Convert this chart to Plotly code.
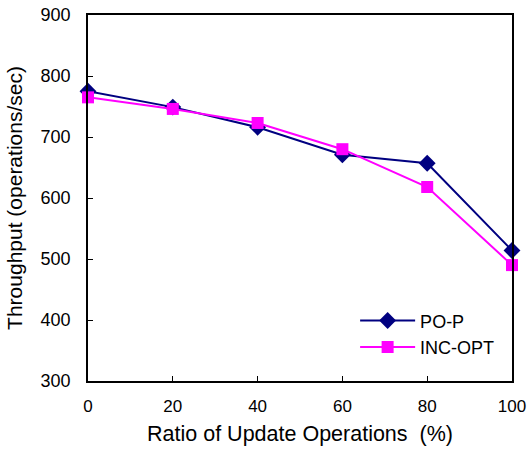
import plotly.graph_objects as go

ratio = [0, 20, 40, 60, 80, 100]
po_p = [775, 749, 716, 671, 657, 514]
inc_opt = [765, 746, 723, 680, 618, 490]

font = "Liberation Sans, Arial, sans-serif"

fig = go.Figure()
fig.add_trace(go.Scatter(x=ratio, y=po_p, name="PO-P", mode="lines+markers",
                         line=dict(color="#000080", width=2),
                         marker=dict(symbol="diamond", size=13, color="#000080"),
                         cliponaxis=False))
fig.add_trace(go.Scatter(x=ratio, y=inc_opt, name="INC-OPT", mode="lines+markers",
                         line=dict(color="#FF00FF", width=2),
                         marker=dict(symbol="square", size=12, color="#FF00FF"),
                         cliponaxis=False))

fig.update_layout(
    width=527, height=454,
    margin=dict(l=88, r=15, t=15, b=73, autoexpand=False),
    plot_bgcolor="white", paper_bgcolor="white",
    font=dict(family=font, size=18, color="black"),
    legend=dict(x=0.63, y=0.215, xanchor="left", yanchor="top",
                bgcolor="rgba(0,0,0,0)", font=dict(size=18), tracegroupgap=2,
                itemwidth=55),
    xaxis=dict(range=[0, 100], tickvals=ratio, showline=True, linecolor="black",
               linewidth=1.5, mirror=True, ticks="inside", ticklen=5,
               tickcolor="black", showgrid=False, zeroline=False,
               ticklabelstandoff=9, automargin=False,
               ticklabeloverflow="allow", tickfont=dict(size=17),
               title=dict(text="Ratio of Update Operations\u00a0 (%)", standoff=11,
                          font=dict(size=21.5))),
    yaxis=dict(range=[300, 900], dtick=100, showline=True, linecolor="black",
               linewidth=1.5, mirror=True, ticks="inside", ticklen=5,
               tickcolor="black", showgrid=False, zeroline=False,
               ticklabelstandoff=12, automargin=False,
               title=dict(text="Throughput (operations/sec)", standoff=12,
                          font=dict(size=21))),
)

fig.write_html("out.html")
